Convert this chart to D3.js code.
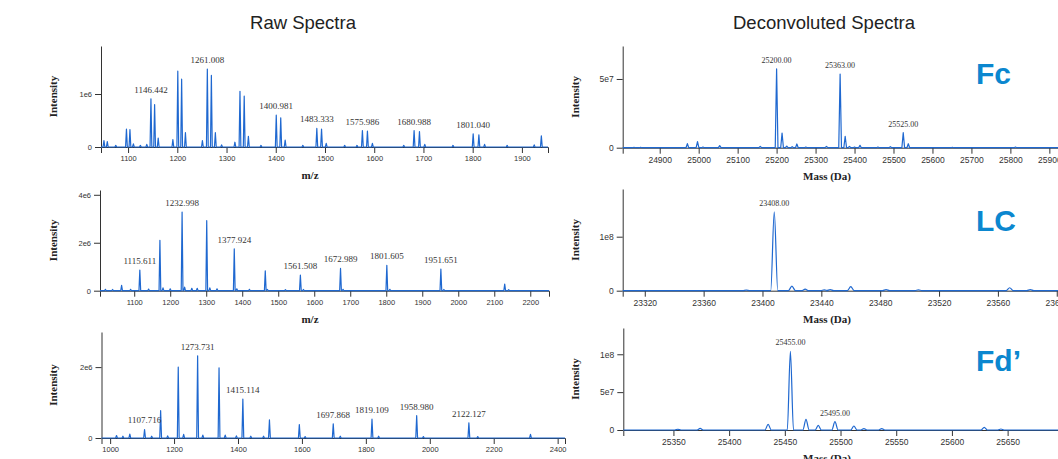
<!DOCTYPE html>
<html>
<head>
<meta charset="utf-8">
<script src="https://cdn.jsdelivr.net/npm/d3@7"></script>
<style>
  body { margin: 0; background: #fff; }
  svg { display: block; }
</style>
</head>
<body>
<svg class="display"></svg>
<script>
const width = 1058;
const height = 459;
const blue = '#1f68d0';

// Raw spectra (m/z, intensity) -- Fc
const fcRawMz = [1051.0, 1057.8, 1075, 1096.7, 1103.8, 1110.8, 1125, 1138.0, 1146.45, 1153.9, 1161.2, 1191.0, 1201.0, 1208.8, 1216.5,
  1251.0, 1261.0, 1269.2, 1277.3, 1290, 1317.0, 1327.3, 1335.9, 1344.4, 1370, 1401.0, 1410.1, 1419.1, 1455, 1483.4, 1493.0, 1502.5,
  1540, 1565, 1576.0, 1586.2, 1596.3, 1660, 1681.0, 1691.9, 1702.7, 1760, 1801.0, 1812.6, 1824.2, 1870, 1925, 1939.5];
const fcRawInt = [0.12e6, 0.10e6, 0.03e6, 0.34e6, 0.33e6, 0.06e6, 0.03e6, 0.05e6, 0.91e6, 0.80e6, 0.17e6, 0.14e6, 1.43e6, 1.28e6, 0.27e6,
  0.12e6, 1.47e6, 1.35e6, 0.27e6, 0.04e6, 0.09e6, 1.05e6, 0.96e6, 0.20e6, 0.03e6, 0.60e6, 0.55e6, 0.13e6, 0.03e6, 0.35e6, 0.34e6, 0.07e6,
  0.03e6, 0.03e6, 0.31e6, 0.30e6, 0.07e6, 0.03e6, 0.31e6, 0.29e6, 0.05e6, 0.03e6, 0.25e6, 0.23e6, 0.05e6, 0.03e6, 0.04e6, 0.21e6];
const fcRawLabels = [1146.442, 1261.008, 1400.981, 1483.333, 1575.986, 1680.988, 1801.040];
const fcRawTicks = [1100, 1200, 1300, 1400, 1500, 1600, 1700, 1800, 1900];

// Raw spectra -- LC
const lcRawMz = [1020, 1040, 1065.0, 1090, 1115.6, 1140, 1171.4, 1180, 1200, 1233.0, 1240, 1260, 1275, 1301.4, 1310, 1330,
  1377.9, 1385, 1420, 1464.0, 1470, 1520, 1561.5, 1570, 1673.0, 1680, 1801.6, 1810, 1951.7, 1960, 2129.0, 2140];
const lcRawInt = [0.06e6, 0.05e6, 0.22e6, 0.06e6, 0.86e6, 0.07e6, 2.10e6, 0.12e6, 0.08e6, 3.28e6, 0.15e6, 0.10e6, 0.10e6, 2.92e6, 0.12e6, 0.08e6,
  1.75e6, 0.08e6, 0.06e6, 0.83e6, 0.05e6, 0.04e6, 0.65e6, 0.05e6, 0.93e6, 0.06e6, 1.06e6, 0.06e6, 0.90e6, 0.05e6, 0.28e6, 0.04e6];
const lcRawLabels = [1115.611, 1232.998, 1377.924, 1561.508, 1672.989, 1801.605, 1951.651];
const lcRawTicks = [1100, 1200, 1300, 1400, 1500, 1600, 1700, 1800, 1900, 2000, 2100, 2200];

// Raw spectra -- Fd'
const fdRawMz = [1020.0, 1040, 1061.6, 1107.7, 1130, 1158.0, 1180, 1213.1, 1230, 1273.7, 1290, 1340.7, 1360, 1395, 1415.2, 1440,
  1480, 1498.4, 1591.9, 1610, 1698.0, 1720, 1819.2, 1840, 1959.0, 1980, 2122.3, 2150, 2315.0];
const fdRawInt = [0.07e6, 0.05e6, 0.11e6, 0.24e6, 0.05e6, 0.77e6, 0.06e6, 2.00e6, 0.10e6, 2.32e6, 0.08e6, 1.98e6, 0.08e6, 0.06e6, 1.10e6, 0.05e6,
  0.05e6, 0.51e6, 0.38e6, 0.04e6, 0.40e6, 0.05e6, 0.53e6, 0.05e6, 0.63e6, 0.04e6, 0.43e6, 0.04e6, 0.10e6];
const fdRawLabels = [1107.716, 1273.731, 1415.114, 1697.868, 1819.109, 1958.980, 2122.127];
const fdRawTicks = [1000, 1200, 1400, 1600, 1800, 2000, 2200, 2400];

// Deconvoluted spectra (mass in Da, intensity) -- Fc
const fcMass = [24834, 24851, 24971, 24997, 25011, 25054, 25158, 25200, 25214, 25226, 25240, 25252, 25275, 25328,
  25363, 25376, 25387, 25400, 25414, 25460, 25492, 25525, 25538, 25651, 25813];
const fcInt = [0.03e7, 0.03e7, 0.30e7, 0.45e7, 0.05e7, 0.15e7, 0.10e7, 5.73e7, 1.07e7, 0.12e7, 0.08e7, 0.27e7, 0.05e7, 0.10e7,
  5.36e7, 0.83e7, 0.10e7, 0.05e7, 0.17e7, 0.05e7, 0.08e7, 1.09e7, 0.29e7, 0.03e7, 0.05e7];
const fcLabels = [25200, 25363, 25525];
const fcTicks = [24900, 25000, 25100, 25200, 25300, 25400, 25500, 25600, 25700, 25800, 25900];

// Deconvoluted -- LC
const lcMass = [23389, 23408, 23420, 23429, 23442, 23446, 23460, 23484, 23506, 23568, 23582];
const lcInt = [0.01e8, 1.46e8, 0.086e8, 0.03e8, 0.015e8, 0.02e8, 0.074e8, 0.02e8, 0.015e8, 0.055e8, 0.02e8];
const lcLabels = [23408];
const lcTicks = [23320, 23360, 23400, 23440, 23480, 23520, 23560, 23600];

// Deconvoluted -- Fd'
const fdMass = [25354, 25374, 25435, 25455, 25469, 25480, 25495, 25512, 25521, 25537, 25629, 25644];
const fdInt = [0.01e8, 0.022e8, 0.075e8, 1.04e8, 0.14e8, 0.062e8, 0.11e8, 0.053e8, 0.018e8, 0.018e8, 0.035e8, 0.013e8];
const fdLabels = [25455, 25495];
const fdTicks = [25350, 25400, 25450, 25500, 25550, 25600, 25650];

const panels = [
  { mz: fcRawMz, ints: fcRawInt, labels: fcRawLabels, digits: 3, xTicks: fcRawTicks, yTicks: [0, 1e6], yTickLabels: ['0', '1e6'],
    xDomain: [1045, 1953], yMax: 1.906e6, box: [101, 548, 46, 147], hw: 1.8, curve: d3.curveLinear,
    xTitle: 'm/z', yTitleX: 53, tickSize: 7.5, labelSize: 9 },
  { mz: lcRawMz, ints: lcRawInt, labels: lcRawLabels, digits: 3, xTicks: lcRawTicks, yTicks: [0, 2e6, 4e6], yTickLabels: ['0', '2e6', '4e6'],
    xDomain: [1005, 2252], yMax: 4.2e6, box: [100, 549, 190, 290.7], hw: 2.4, curve: d3.curveLinear,
    xTitle: 'm/z', yTitleX: 53, tickSize: 7.5, labelSize: 9 },
  // its m/z title falls below the bottom edge, as in the source picture
  { mz: fdRawMz, ints: fdRawInt, labels: fdRawLabels, digits: 3, xTicks: fdRawTicks, yTicks: [0, 2e6], yTickLabels: ['0', '2e6'],
    xDomain: [973, 2423], yMax: 2.99e6, box: [101.5, 565, 332, 438], hw: 2.8, curve: d3.curveLinear,
    xTitle: '', yTitleX: 53, tickSize: 7.5, labelSize: 9 },
  { mz: fcMass, ints: fcInt, labels: fcLabels, digits: 2, xTicks: fcTicks, yTicks: [0, 5e7], yTickLabels: ['0', '5e7'],
    xDomain: [24805, 25953], yMax: 7.4e7, box: [622.7, 1070, 46, 147.7], hw: 3.5, curve: d3.curveLinear,
    xTitle: 'Mass (Da)', yTitleX: 575, tickSize: 8.5, labelSize: 8, tag: 'Fc', tagY: 84 },
  { mz: lcMass, ints: lcInt, labels: lcLabels, digits: 2, xTicks: lcTicks, yTicks: [0, 1e8], yTickLabels: ['0', '1e8'],
    xDomain: [23305, 23609], yMax: 1.883e8, box: [622.7, 1070, 189, 290.7], hw: 2.4, curve: d3.curveMonotoneX,
    xTitle: 'Mass (Da)', yTitleX: 575, tickSize: 8.5, labelSize: 8, tag: 'LC', tagY: 231 },
  { mz: fdMass, ints: fdInt, labels: fdLabels, digits: 2, xTicks: fdTicks, yTicks: [0, 5e7, 1e8], yTickLabels: ['0', '5e7', '1e8'],
    xDomain: [25305, 25706], yMax: 1.347e8, box: [623.3, 1070, 328, 430], hw: 2.8, curve: d3.curveMonotoneX,
    xTitle: 'Mass (Da)', yTitleX: 575, tickSize: 8.5, labelSize: 8, tag: 'Fd\u2019', tagY: 371 }
];

const svg = d3.select('.display')
  .attr('width', width)
  .attr('height', height);

svg.append('rect')
  .attr('width', width)
  .attr('height', height)
  .attr('fill', '#fff');

svg.append('text')
  .attr('x', 303).attr('y', 29)
  .attr('text-anchor', 'middle')
  .style('font-family', 'Liberation Sans, Arial, sans-serif')
  .style('font-size', '18.5px')
  .attr('fill', '#222')
  .text('Raw Spectra');

svg.append('text')
  .attr('x', 824).attr('y', 29)
  .attr('text-anchor', 'middle')
  .style('font-family', 'Liberation Sans, Arial, sans-serif')
  .style('font-size', '18.5px')
  .attr('fill', '#222')
  .text('Deconvoluted Spectra');

panels.forEach(drawPanel);

function drawPanel(p) {
  const [x0, x1, yTop, yBase] = p.box;
  const x = d3.scaleLinear().domain(p.xDomain).range([x0, x1]);
  const y = d3.scaleLinear().domain([0, p.yMax]).range([yBase, yTop]);
  const g = svg.append('g');

  const xAxis = g.append('g')
    .attr('transform', 'translate(0,' + yBase + ')')
    .call(d3.axisBottom(x).tickValues(p.xTicks).tickFormat(d3.format('d')));

  const yAxis = g.append('g')
    .attr('transform', 'translate(' + x0 + ',0)')
    .call(d3.axisLeft(y).tickValues(p.yTicks).tickFormat((d, i) => p.yTickLabels[i]).tickSizeOuter(0));

  [xAxis, yAxis].forEach(a => {
    a.selectAll('path, line').attr('stroke', '#333');
    a.selectAll('text')
      .attr('fill', '#333')
      .style('font-family', 'Liberation Sans, Arial, sans-serif')
      .style('font-size', p.tickSize + 'px');
  });

  // spectrum: one path, each peak a narrow shape on the baseline
  const peaks = d3.sort(p.mz.map((m, i) => ({ m: m, v: p.ints[i] })), d => d.m);
  const pts = [[p.xDomain[0], 0]];
  peaks.forEach(d => {
    pts.push([d.m - p.hw, 0], [d.m, d.v], [d.m + p.hw, 0]);
  });
  pts.push([p.xDomain[1], 0]);

  const line = d3.line()
    .x(d => x(d[0]))
    .y(d => y(d[1]))
    .curve(p.curve);

  g.append('path')
    .attr('d', line(pts))
    .attr('fill', 'none')
    .attr('stroke', blue)
    .attr('stroke-width', 1.2)
    .attr('stroke-linejoin', 'round');

  // peak labels sit just above the nearest peak
  g.selectAll('text.peak')
    .data(p.labels)
    .enter().append('text')
      .attr('class', 'peak')
      .attr('x', d => x(d))
      .attr('y', d => y(peaks[d3.minIndex(peaks, q => Math.abs(q.m - d))].v) - 6)
      .attr('text-anchor', 'middle')
      .style('font-family', 'Liberation Serif, Times New Roman, serif')
      .style('font-size', p.labelSize + 'px')
      .attr('fill', '#333')
      .text(d => d.toFixed(p.digits));

  g.append('text')
    .attr('transform', 'translate(' + p.yTitleX + ',' + (yTop + yBase) / 2 + ') rotate(-90)')
    .attr('text-anchor', 'middle')
    .attr('dy', '0.35em')
    .style('font-family', 'Liberation Serif, Times New Roman, serif')
    .style('font-size', '11px')
    .style('font-weight', 'bold')
    .attr('fill', '#222')
    .text('Intensity');

  if (p.xTitle) {
    g.append('text')
      .attr('x', p.tag ? 827 : 310)
      .attr('y', yBase + 32)
      .attr('text-anchor', 'middle')
      .style('font-family', 'Liberation Serif, Times New Roman, serif')
      .style('font-size', '11px')
      .style('font-weight', 'bold')
      .attr('fill', '#222')
      .text(p.xTitle);
  }

  if (p.tag) {
    g.append('text')
      .attr('x', 976)
      .attr('y', p.tagY)
      .style('font-family', 'Liberation Sans, Arial, sans-serif')
      .style('font-size', '30px')
      .style('font-weight', 'bold')
      .attr('fill', '#0b87cf')
      .text(p.tag);
  }
}
</script>
</body>
</html>
